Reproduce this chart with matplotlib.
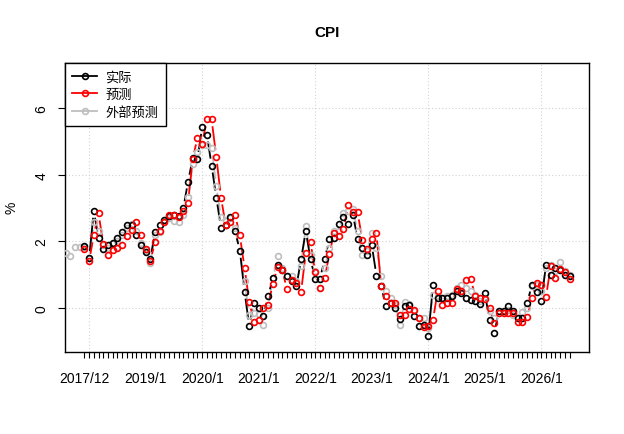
import numpy as np
import pandas as pd
import matplotlib
matplotlib.use('Agg')
import matplotlib.pyplot as plt
from matplotlib.lines import Line2D
from matplotlib.collections import LineCollection

plt.rcParams['font.family'] = ['Liberation Sans', 'Noto Sans CJK SC', 'DejaVu Sans']

nan = np.nan

# monthly, 2017/8 .. 2026/7
months = pd.period_range('2017-08', '2026-07', freq='M')

actual = [nan, nan, nan, nan, 1.85,
          1.5, 2.92, 2.09, 1.78, 1.9, 1.95, 2.09, 2.29, 2.49, 2.5, 2.19, 1.89,
          1.68, 1.48, 2.29, 2.5, 2.65, 2.75, 2.8, 2.75, 3.0, 3.8, 4.5, 4.48,
          5.44, 5.21, 4.28, 3.32, 2.41, 2.5, 2.72, 2.3, 1.72, 0.49, -0.55, 0.16,
          0.0, -0.24, 0.36, 0.9, 1.3, 1.15, 0.97, 0.8, 0.65, 1.47, 2.31, 1.47,
          0.87, 0.87, 1.47, 2.06, 2.1, 2.52, 2.72, 2.52, 2.8, 2.08, 1.8, 1.6,
          1.9, 0.97, 0.65, 0.06, 0.15, 0.0, -0.34, 0.06, 0.1, -0.24, -0.55, -0.5,
          -0.84, 0.68, 0.3, 0.29, 0.3, 0.35, 0.5, 0.45, 0.3, 0.25, 0.22, 0.12,
          0.46, -0.36, -0.75, -0.1, -0.1, 0.06, -0.1, -0.3, -0.3, 0.16, 0.7, 0.49,
          0.2, 1.3, 1.0, 1.2, 1.15, 1.0, 0.95]

forecast = [nan, nan, nan, nan, 1.76,
            1.42, 2.18, 2.84, 1.93, 1.6, 1.73, 1.81, 1.88, 2.16, 2.34, 2.57, 2.18,
            1.76, 1.42, 1.99, 2.3, 2.57, 2.79, 2.79, 2.72, 2.92, 3.17, 4.48, 5.12,
            4.94, 5.67, 5.67, 4.54, 3.32, 2.48, 2.57, 2.79, 2.18, 1.2, 0.19, -0.42,
            -0.36, -0.01, 0.09, 0.72, 1.23, 1.15, 0.56, 0.83, 0.75, 0.49, 1.66, 1.98,
            1.07, 0.6, 0.9, 1.61, 2.26, 2.16, 2.38, 3.09, 2.87, 2.87, 2.04, 1.76,
            2.08, 2.24, 0.65, 0.36, 0.16, 0.16, -0.21, -0.21, -0.04, -0.06, -0.31, -0.57,
            -0.55, -0.36, 0.52, 0.09, 0.14, 0.14, 0.57, 0.5, 0.83, 0.87, 0.35, 0.29,
            0.26, -0.01, -0.45, -0.14, -0.14, -0.14, -0.14, -0.42, -0.42, -0.28, 0.29, 0.74,
            0.7, 0.34, 1.27, 0.9, 1.17, 1.07, 0.87]

external = [1.66, 1.56, 1.83, 1.83, 1.83,
            1.5, 2.57, 2.3, 1.9, 1.8, 1.96, 2.0, 2.2, 2.4, 2.52, 2.3, 1.95,
            1.75, 1.35, 2.2, 2.29, 2.57, 2.7, 2.62, 2.59, 2.8, 3.35, 4.33, 4.68,
            4.9, 4.91, 4.8, 3.67, 2.72, 2.6, 2.7, 2.41, 1.7, 0.8, -0.2, -0.15,
            -0.18, -0.52, 0.0, 0.9, 1.55, 1.2, 0.97, 0.97, 0.8, 1.27, 2.46, 1.6,
            1.1, 0.6, 1.2, 1.8, 2.3, 2.3, 2.85, 2.9, 2.97, 2.3, 1.6, 1.7,
            2.26, 1.8, 0.97, 0.5, 0.3, 0.1, -0.51, 0.19, 0.12, -0.1, -0.3, -0.31,
            -0.6, 0.4, 0.36, 0.29, 0.36, 0.4, 0.6, 0.7, 0.6, 0.5, 0.39, 0.2,
            0.3, -0.1, -0.3, -0.1, -0.1, -0.05, -0.2, -0.3, -0.11, 0.0, 0.65, 0.7,
            0.5, 1.2, 1.3, 1.1, 1.37, 1.1, 1.0]

series_names = ['实际', '预测', '外部预测']
series_colors = ['black', 'red', '#BEBEBE']

tick_labels = ['2017/12', '2019/1', '2020/1', '2021/1', '2022/1',
               '2023/1', '2024/1', '2025/1', '2026/1']
grid_months = ['2018/1', '2020/1', '2022/1', '2024/1', '2026/1']


def month_pos(p):
    # months counted from 2018/1
    return (p.year - 2018) * 12 + (p.month - 1)


def label_pos(s):
    y, m = s.split('/')
    return (int(y) - 2018) * 12 + int(m) - 1


x = np.array([month_pos(p) for p in months], dtype=float)


def gap_lines(ax, xs, ys, color, gap=7.0, lw=1.3):
    # R type="b": lines stop short of the points
    ys = np.asarray(ys, dtype=float)
    pts = ax.transData.transform(np.column_stack([xs, ys]))
    inv = ax.transData.inverted()
    segs = []
    for p0, p1 in zip(pts[:-1], pts[1:]):
        if np.isnan(p0).any() or np.isnan(p1).any():
            continue
        d = p1 - p0
        L = np.hypot(d[0], d[1])
        if L <= 2 * gap:
            continue
        u = d / L
        segs.append(inv.transform(np.array([p0 + u * gap, p1 - u * gap])))
    ax.add_collection(LineCollection(segs, colors=color, linewidths=lw, zorder=3))


W, H = 624, 435
fig = plt.figure(figsize=(W / 100, H / 100), dpi=100)
ax = fig.add_axes([65 / W, 1 - 353 / H, (589 - 65) / W, (353 - 64) / H])

ax.set_xlim(-5.12, 106.12)
ax.set_ylim(-1.32, 7.36)

# grid
for g in grid_months:
    ax.axvline(label_pos(g), color='#D3D3D3', lw=0.8, ls=(0, (1, 2)), zorder=1)
for v in [0, 2, 4, 6]:
    ax.axhline(v, color='#D3D3D3', lw=0.8, ls=(0, (1, 2)), zorder=1)

# draw gray first, red on top
order = [2, 0, 1]
data = [actual, forecast, external]
for i in order:
    gap_lines(ax, x, data[i], series_colors[i])
    ax.plot(x, data[i], 'o', mfc='none', mec=series_colors[i], ms=4.2, mew=1.2,
            zorder=4, clip_on=True)

ax.set_xticks([label_pos(s) for s in tick_labels])
ax.set_xticklabels(tick_labels, fontsize=10)
ax.set_xticks(np.arange(label_pos('2017/12'), label_pos('2026/7') + 1), minor=True)
ax.tick_params(axis='x', which='both', length=4, width=0.8, pad=10)
ax.set_yticks([0, 2, 4, 6])
ax.set_yticklabels(['0', '2', '4', '6'], rotation=90, va='center', fontsize=10)
ax.tick_params(axis='y', length=5, width=0.8, pad=7)

for s in ax.spines.values():
    s.set_linewidth(1.0)
    s.set_color('black')

handles = [Line2D([0], [0], color=c, lw=1.3, marker='o', mfc='none', mec=c, ms=4.2, mew=1.2)
           for c in series_colors]
leg = ax.legend(handles, series_names, loc='upper left', bbox_to_anchor=(0, 1),
                borderaxespad=0, fancybox=False, edgecolor='black', framealpha=1,
                fontsize=9.5, handlelength=1.9, handletextpad=0.6, labelspacing=0.4,
                borderpad=0.55)
leg.get_frame().set_linewidth(1.0)
leg.set_zorder(10)

fig.text(327 / W, 1 - 33 / H, 'CPI', ha='center', va='center', fontsize=11,
         fontweight='bold')
fig.text(11 / W, 1 - 208 / H, '%', ha='center', va='center', rotation=90, fontsize=10)

fig.savefig('out.png', dpi=100)
